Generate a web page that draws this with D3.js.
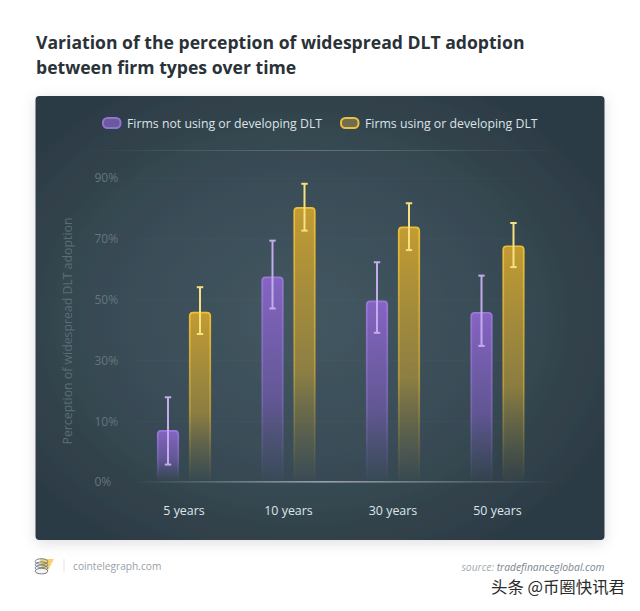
<!DOCTYPE html>
<html><head><meta charset="utf-8">
<script src="https://cdn.jsdelivr.net/npm/d3@7/dist/d3.min.js"></script>
<style>
html,body{margin:0;padding:0;background:#fff;}
svg{display:block;font-family:"Open Sans",sans-serif;}
</style></head><body>
<svg id="c" width="640" height="611"></svg>
<script>
const categories = ["5 years","10 years","30 years","50 years"];
const seriesNames = ["Firms not using or developing DLT","Firms using or developing DLT"];
const notUsing = [8.5,57.5,49.6,45.8];
const notUsingLow = [2.8,47,39,34.7];
const notUsingHigh = [17.8,69.3,62.2,57.8];
const using = [45.9,80.3,73.9,67.7];
const usingLow = [38.6,72.6,66.2,60.6];
const usingHigh = [54,88,81.6,75.1];
const yTicks = [0,10,30,50,70,90];
const titleLines = ["Variation of the perception of widespread DLT adoption","between firm types over time"];

const svg = d3.select("#c");
const defs = svg.append("defs");

const shadow = defs.append("filter").attr("id","sh").attr("x","-10%").attr("y","-10%").attr("width","120%").attr("height","120%");
shadow.append("feDropShadow").attr("dx",0).attr("dy",3).attr("stdDeviation",7).attr("flood-color","#000").attr("flood-opacity",0.13);

const bg = defs.append("radialGradient").attr("id","bg").attr("cx","0.47").attr("cy","0.5").attr("r","0.6");
bg.append("stop").attr("offset","0").attr("stop-color","#435761");
bg.append("stop").attr("offset","0.55").attr("stop-color","#394c56");
bg.append("stop").attr("offset","1").attr("stop-color","#2c3b44");

function vGrad(id,stops){
  const g = defs.append("linearGradient").attr("id",id).attr("x1",0).attr("y1",0).attr("x2",0).attr("y2",1);
  stops.forEach(s=>g.append("stop").attr("offset",s[0]).attr("stop-color",s[1]).attr("stop-opacity",s[2]));
}
vGrad("fillP",[[0,"#8664c4",1],[0.6,"#6f5aa8",0.75],[1,"#5d5596",0.05]]);
vGrad("fillG",[[0,"#c39c32",1],[0.6,"#a08a3c",0.8],[1,"#7c7440",0.05]]);
vGrad("strokeP",[[0,"#9a78d8",1],[0.6,"#8a70c8",0.6],[1,"#7a68b0",0.03]]);
vGrad("strokeG",[[0,"#eebf36",1],[0.6,"#d0aa38",0.7],[1,"#9a8a40",0.03]]);

const sep = defs.append("linearGradient").attr("id","sep");
sep.append("stop").attr("offset","0").attr("stop-color","#fff").attr("stop-opacity",0);
sep.append("stop").attr("offset","0.5").attr("stop-color","#fff").attr("stop-opacity",0.22);
sep.append("stop").attr("offset","1").attr("stop-color","#fff").attr("stop-opacity",0);
const base = defs.append("linearGradient").attr("id","base");
base.append("stop").attr("offset","0").attr("stop-color","#fff").attr("stop-opacity",0);
base.append("stop").attr("offset","0.45").attr("stop-color","#fff").attr("stop-opacity",0.6);
base.append("stop").attr("offset","1").attr("stop-color","#fff").attr("stop-opacity",0);

// titles
svg.append("g").selectAll("text").data(titleLines).join("text")
  .attr("x",36).attr("y",(d,i)=>49+i*24.5)
  .attr("font-size",17.6).attr("font-weight",700).attr("fill","#2a3238").text(d=>d);

// panel
svg.append("rect").attr("x",35.5).attr("y",96).attr("width",569).attr("height",444).attr("rx",4)
  .attr("fill","url(#bg)").attr("filter","url(#sh)");

// scales
const x0 = d3.scaleBand().domain(categories).range([131.75,549.75]);
const x1 = d3.scaleBand().domain(seriesNames).range([-27,27]).paddingInner(0.3125);
// evenly spaced labels 0,10,30,50,70,90: the axis is not linear below 10
const y = d3.scaleLinear().domain([0,10,90]).range([481.5,421,177.7]);

// separator + y axis
svg.append("rect").attr("x",85).attr("y",150).attr("width",480).attr("height",1).attr("fill","url(#sep)");

const yAxis = svg.append("g").attr("transform","translate(135,0)")
  .call(d3.axisLeft(y).tickValues(yTicks).tickFormat(d=>d+"%").tickSize(0).tickPadding(0));
yAxis.select(".domain").remove();
yAxis.selectAll("text").attr("x",-40.5).attr("text-anchor","start").attr("dy","0.35em")
  .attr("font-size",12).attr("font-family","\"Open Sans\",sans-serif").attr("fill","#64757e");
yAxis.selectAll(".tick").filter(d=>d>0).append("line")
  .attr("x1",0).attr("x2",385).attr("stroke","#fff").attr("stroke-opacity",0.045).attr("stroke-dasharray","2 2");

svg.append("text").attr("transform","translate(72,331) rotate(-90)").attr("text-anchor","middle")
  .attr("font-size",12.3).attr("fill","#5c6d76").text("Perception of widespread DLT adoption");

// bars
const rows = categories.map((c,i)=>[
  {c,s:seriesNames[0],v:notUsing[i],lo:notUsingLow[i],hi:notUsingHigh[i],k:"P",err:"#c4acec"},
  {c,s:seriesNames[1],v:using[i],lo:usingLow[i],hi:usingHigh[i],k:"G",err:"#f7e07f"}
]).flat();
const bw = x1.bandwidth();
const px = d=>x0(d.c)+x0.bandwidth()/2+x1(d.s);
const yBase = y(0)-1.5;
function barPath(d){
  const l=px(d)+0.75,r=l+bw-1.5,t=y(d.v)+0.75,rd=3.5;
  return `M${l},${yBase}V${t+rd}Q${l},${t} ${l+rd},${t}H${r-rd}Q${r},${t} ${r},${t+rd}V${yBase}`;
}
const g = svg.append("g");
g.selectAll("path.fillb").data(rows).join("path").attr("class","fillb")
  .attr("d",d=>barPath(d)+"Z").attr("fill",d=>`url(#fill${d.k})`);
g.selectAll("path.edge").data(rows).join("path").attr("class","edge")
  .attr("d",barPath).attr("fill","none").attr("stroke",d=>`url(#stroke${d.k})`).attr("stroke-width",1.7);

// error bars
const cx = d=>px(d)+bw/2;
const eb = svg.append("g");
eb.selectAll("line.stem").data(rows).join("line").attr("class","stem")
  .attr("x1",cx).attr("x2",cx).attr("y1",d=>y(d.hi)).attr("y2",d=>y(d.lo))
  .attr("stroke",d=>d.err).attr("stroke-width",2);
["hi","lo"].forEach(f=>{
  eb.selectAll("line.cap"+f).data(rows).join("line").attr("class","cap"+f)
    .attr("x1",d=>cx(d)-3.2).attr("x2",d=>cx(d)+3.2).attr("y1",d=>y(d[f])).attr("y2",d=>y(d[f]))
    .attr("stroke",d=>d.err).attr("stroke-width",2);
});

// baseline
svg.append("rect").attr("x",134).attr("y",481.2).attr("width",425).attr("height",1.3).attr("fill","url(#base)");

// category labels
svg.append("g").selectAll("text").data(categories).join("text")
  .attr("x",d=>x0(d)+x0.bandwidth()/2).attr("y",515).attr("text-anchor","middle")
  .attr("font-size",12.4).attr("fill","#dfe6ea").text(d=>d);

// legend
const legendX = [102,340];
const lg = svg.append("g").selectAll("g").data(seriesNames).join("g")
  .attr("transform",(d,i)=>`translate(${legendX[i]},0)`);
lg.append("rect").attr("x",1).attr("y",118).attr("width",17.5).attr("height",10).attr("rx",4.5)
  .attr("fill",(d,i)=>i?"#6f6c50":"#6a5a9c").attr("stroke",(d,i)=>i?"#ecc03c":"#9173d6").attr("stroke-width",2);
lg.append("text").attr("x",25).attr("y",127.5).attr("font-size",12.3).attr("fill","#dbe3e7").text(d=>d);

// footer
const logo = svg.append("g").attr("fill","none");
logo.append("path").attr("d","M40,559L54,559L46,574L42,574Z").attr("fill","#f3d272");
[0,1,2,3].forEach(i=>logo.append("ellipse").attr("cx",41.5).attr("cy",561.5+i*3.2).attr("rx",6.3).attr("ry",2.8)
  .attr("fill",i===3?"#f4f4f4":"none").attr("stroke","#6a757d").attr("stroke-width",0.9));
svg.append("rect").attr("x",63.5).attr("y",559).attr("width",1).attr("height",13).attr("fill","#dfe3e5");
svg.append("text").attr("x",73).attr("y",570).attr("font-size",10.2).attr("fill","#98a1a7").text("cointelegraph.com");

const src = svg.append("text").attr("x",604.5).attr("y",571).attr("text-anchor","end")
  .attr("font-size",10.3).attr("font-style","italic");
src.append("tspan").attr("fill","#a3abb0").text("source: ");
src.append("tspan").attr("fill","#7a858c").text("tradefinanceglobal.com");

svg.append("text").attr("x",491).attr("y",593).attr("font-size",16.4)
  .attr("font-family","\"Noto Sans CJK SC\",sans-serif").attr("fill","#2a2a2a").text("头条 @币圈快讯君");
</script>
</body></html>
